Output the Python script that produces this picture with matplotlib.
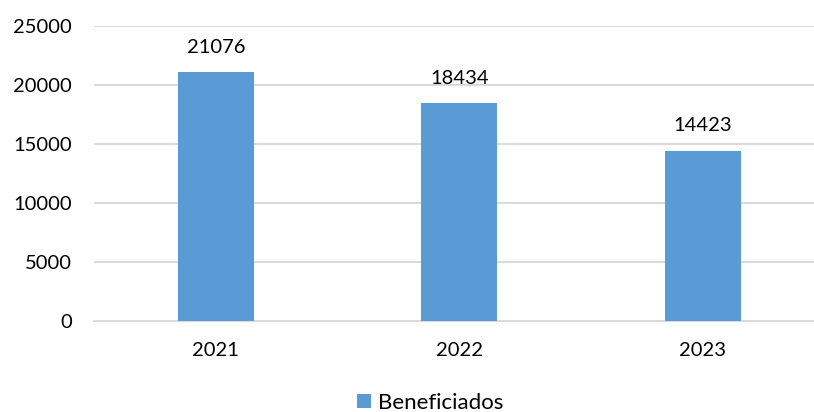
import matplotlib
matplotlib.use("Agg")
import matplotlib.pyplot as plt
from matplotlib.patches import Patch

years = ["2021", "2022", "2023"]
beneficiados = [21076, 18434, 14423]
y_ticks = [0, 5000, 10000, 15000, 20000, 25000]

plt.rcParams["font.family"] = ["Lato", "DejaVu Sans"]

BAR_COLOR = "#5B9BD5"
GRID_COLOR = "#D9D9D9"
TEXT_COLOR = "#000000"

fig = plt.figure(figsize=(8.14, 4.12), dpi=100)
ax = fig.add_axes([94 / 814, 1 - 321 / 412, 1 - 94 / 814, (321 - 26) / 412])

x = list(range(len(years)))
ax.bar(x, beneficiados, width=0.312, color=BAR_COLOR, zorder=3)

for xi, v in zip(x, beneficiados):
    ax.annotate(f"{v}", (xi, v), xytext=(0, 12), textcoords="offset points",
                ha="center", va="bottom", fontsize=14.5, color=TEXT_COLOR)

ax.set_xlim(-0.5, -0.5 + 720 / 243.5)
ax.set_ylim(0, 25000)
ax.set_yticks(y_ticks)
ax.set_yticklabels([str(t) for t in y_ticks])
ax.set_xticks(x)
ax.set_xticklabels(years)
ax.tick_params(axis="both", length=0, labelsize=14.5, colors=TEXT_COLOR)
ax.tick_params(axis="y", pad=16)
ax.tick_params(axis="x", pad=15)

ax.grid(axis="y", color=GRID_COLOR, linewidth=1.4, zorder=0)
ax.set_axisbelow(True)
for s in ax.spines.values():
    s.set_visible(False)
ax.axhline(0, color=GRID_COLOR, linewidth=1.4, zorder=2, clip_on=False)

handles = [Patch(facecolor=BAR_COLOR, edgecolor="none", label="Beneficiados")]
fig.legend(handles=handles, loc="lower center", bbox_to_anchor=(430 / 814, -0.05),
           frameon=False, fontsize=16, handlelength=0.62, handleheight=0.62,
           handletextpad=0.3)

fig.savefig("out.png", dpi=100)
